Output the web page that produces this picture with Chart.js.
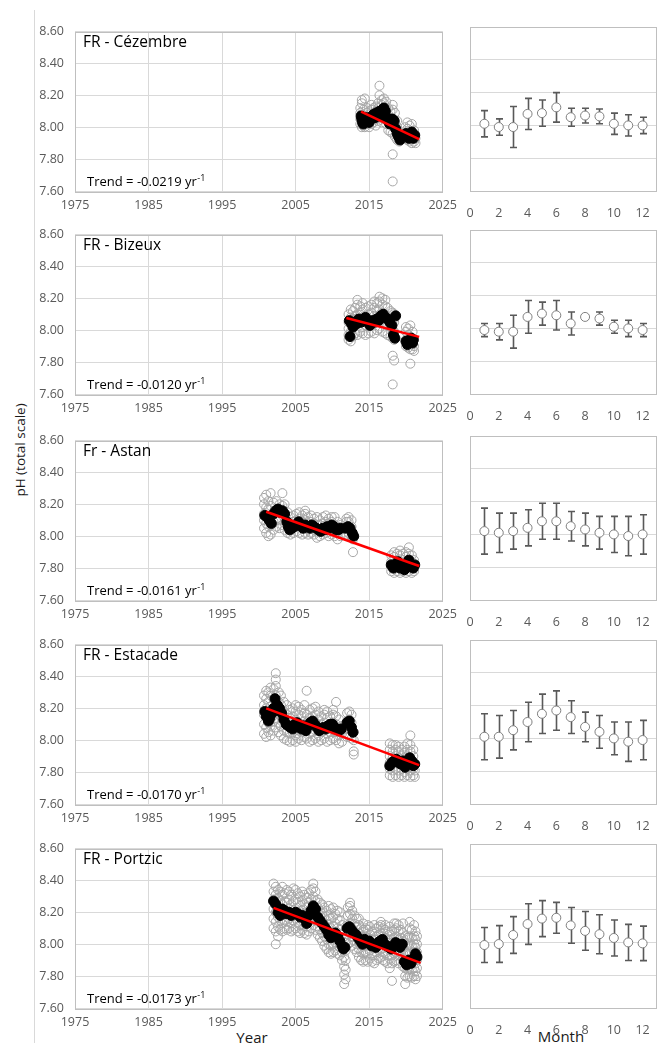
<!DOCTYPE html>
<html><head><meta charset="utf-8">
<script src="https://cdn.jsdelivr.net/npm/chart.js@4.4.1/dist/chart.umd.min.js"></script>
<style>
html,body{margin:0;padding:0;background:#fff;}
body{width:663px;height:1043px;position:relative;overflow:hidden;font-family:"Open Sans",sans-serif;}
canvas{position:absolute;}
.vline{position:absolute;left:34px;top:10px;width:0;height:1033px;border-left:1px solid #d9d9d9;}
.lab{position:absolute;color:#1a1a1a;white-space:nowrap;}
</style></head>
<body>
<div class="vline"></div>
<div class="lab" id="ylab" style="left:20px;top:450px;font-size:13.5px;transform:translate(-50%,-50%) rotate(-90deg);">pH (total scale)</div>
<div class="lab" style="left:252px;top:1037px;font-size:15px;transform:translate(-50%,-50%);">Year</div>
<div class="lab" style="left:561px;top:1036px;font-size:15px;transform:translate(-50%,-50%);">Month</div>
<script>
// ---------- tick labels ----------
const yearTicks = [1975, 1985, 1995, 2005, 2015, 2025];
const monthTicks = [0, 2, 4, 6, 8, 10, 12];
const phTicks = [7.6, 7.8, 8.0, 8.2, 8.4, 8.6];
const months = [1,2,3,4,5,6,7,8,9,10,11,12];

// ---------- site names & trends ----------
const siteNames = ['FR - Cézembre', 'FR - Bizeux', 'Fr - Astan', 'FR - Estacade', 'FR - Portzic'];
const trendLabels = ['-0.0219', '-0.0120', '-0.0161', '-0.0170', '-0.0173'];

// ---------- Cézembre ----------
const cezRaw = [
 [2013.8,[8.02,8.05,8.09,8.12]],[2014.0,[8.00,8.04,8.08,8.15,8.17]],[2014.2,[8.01,8.06,8.11]],
 [2014.4,[8.00,8.03,8.07,8.18]],[2014.7,[8.02,8.05,8.09,8.12]],[2015.0,[8.00,8.04,8.08,8.10]],
 [2015.3,[8.02,8.06,8.11,8.14]],[2015.6,[8.03,8.07,8.12]],[2015.9,[8.01,8.05,8.10,8.13]],
 [2016.2,[8.04,8.08,8.12,8.15]],[2016.4,[8.06,8.10,8.20,8.26]],[2016.7,[8.03,8.09,8.14,8.17]],
 [2017.0,[8.05,8.10,8.15,8.18]],[2017.3,[8.02,8.08,8.12,8.16]],[2017.6,[7.98,8.03,8.08,8.12]],
 [2017.9,[7.97,8.02,8.06,8.10]],[2018.2,[7.96,8.01,8.05,8.11,8.14,7.83,7.66]],[2018.5,[7.94,7.99,8.03,8.09]],
 [2018.8,[7.92,7.95,8.00,8.04]],[2019.1,[7.91,7.94,7.97]],[2019.9,[7.93,7.96,8.00]],
 [2020.2,[7.92,7.95,7.99,8.03]],[2020.5,[7.91,7.94,7.97,8.01]],[2020.8,[7.90,7.93,7.96,8.02]],
 [2021.1,[7.91,7.94,7.98]],[2021.3,[7.90,7.93]]
];
const cezMonthly = [
 [2013.9,8.07],[2014.0,8.05],[2014.1,8.03],[2014.2,8.02],[2014.4,8.04],[2014.6,8.06],[2014.8,8.05],
 [2015.0,8.03],[2015.2,8.05],[2015.4,8.07],[2015.6,8.08],[2015.8,8.06],[2016.0,8.09],[2016.2,8.08],
 [2016.4,8.10],[2016.6,8.07],[2016.8,8.11],[2017.0,8.12],[2017.2,8.10],[2017.4,8.06],[2017.6,8.04],
 [2017.8,8.02],[2018.0,8.05],[2018.2,8.05],[2018.4,8.04],[2018.6,7.99],[2018.8,7.96],[2019.0,7.94],
 [2019.2,7.92],[2020.0,7.96],[2020.2,7.95],[2020.4,7.93],[2020.6,7.94],[2020.8,7.97],[2021.0,7.93],[2021.2,7.95]
];
const cezTrend = [[2013.9,8.098],[2021.8,7.925]];
const cezMonthMean = [8.01,7.99,7.99,8.07,8.075,8.11,8.05,8.06,8.055,8.01,8.00,8.00];
const cezMonthSd   = [0.08,0.05,0.125,0.095,0.08,0.09,0.055,0.045,0.045,0.065,0.065,0.05];

// ---------- Bizeux ----------
const bizRaw = [
 [2012.2,[7.94,7.97,8.01,8.05,8.10]],[2012.5,[7.93,7.99,8.04,8.08,8.13]],[2012.8,[7.96,8.02,8.07,8.12]],
 [2013.1,[7.98,8.03,8.09,8.14]],[2013.4,[7.97,8.04,8.10,8.16,8.19]],[2013.8,[7.99,8.05,8.11,8.15]],
 [2014.1,[7.98,8.02,8.08,8.13,8.17]],[2014.5,[7.97,8.03,8.09,8.14]],[2014.9,[7.98,8.04,8.10,8.15]],
 [2015.3,[7.99,8.05,8.11,8.16]],[2015.7,[7.98,8.04,8.09,8.14,8.18]],[2016.1,[8.00,8.06,8.12,8.17]],
 [2016.4,[8.01,8.07,8.13,8.18,8.21]],[2016.8,[7.99,8.05,8.11,8.16,8.20]],[2017.2,[7.98,8.04,8.10,8.15,8.19]],
 [2017.5,[7.97,8.03,8.08,8.14]],[2017.9,[7.96,8.02,8.07,8.12]],[2018.2,[7.95,8.00,8.06,8.11,7.84,7.66]],
 [2018.4,[7.94,7.99,8.05,8.10,7.81]],[2020.0,[7.90,7.94,7.99,8.02]],[2020.3,[7.89,7.93,7.97,8.01]],
 [2020.6,[7.88,7.92,7.96,8.03,7.79]],[2020.9,[7.88,7.91,7.95,7.99]],[2021.1,[7.87,7.90,7.94]]
];
const bizMonthly = [
 [2012.3,8.06],[2012.4,7.96],[2012.6,8.04],[2012.8,8.02],[2013.0,8.05],[2013.3,8.04],[2013.6,8.07],
 [2013.9,8.05],[2014.2,8.06],[2014.5,8.08],[2014.8,8.05],[2015.1,8.03],[2015.4,8.06],[2015.7,8.05],
 [2016.0,8.07],[2016.3,8.06],[2016.6,8.09],[2016.9,8.10],[2017.2,8.08],[2017.5,8.07],[2017.8,8.05],
 [2018.1,8.03],[2018.3,7.97],[2018.5,7.95],[2018.6,8.09],[2020.0,7.93],[2020.2,7.91],[2020.5,7.93],
 [2020.7,7.95],[2020.9,7.92],[2021.0,7.94]
];
const bizTrend = [[2011.9,8.076],[2021.8,7.958]];
const bizMonthMean = [7.99,7.98,7.98,8.07,8.09,8.08,8.03,8.07,8.06,8.01,8.00,7.99];
const bizMonthSd   = [0.04,0.05,0.10,0.10,0.07,0.09,0.07,0.01,0.04,0.04,0.05,0.04];

// ---------- Astan ----------
const astRaw = [
 [2000.7,[8.05,8.10,8.14,8.20,8.24]],[2001.0,[8.02,8.08,8.13,8.18,8.26]],[2001.3,[8.00,8.06,8.11,8.17,8.22]],
 [2001.6,[8.01,8.07,8.12,8.19,8.27]],[2002.0,[8.04,8.09,8.14,8.21]],[2002.4,[8.06,8.11,8.16,8.22]],
 [2002.8,[8.05,8.10,8.15,8.20]],[2003.2,[8.07,8.13,8.19,8.27]],[2003.5,[8.04,8.09,8.14,8.20]],
 [2003.9,[8.02,8.06,8.10,8.15]],[2004.3,[8.01,8.04,8.08,8.12]],[2004.7,[8.02,8.05,8.09,8.13]],
 [2005.1,[8.03,8.06,8.10,8.14]],[2005.5,[8.02,8.07,8.11,8.15]],[2005.9,[8.01,8.05,8.09,8.13]],
 [2006.3,[8.02,8.06,8.10,8.14,8.16]],[2006.7,[8.01,8.04,8.08,8.12]],[2007.1,[8.02,8.05,8.09,8.13]],
 [2007.5,[8.01,8.04,8.08,8.11]],[2007.9,[7.99,8.03,8.07,8.12]],[2008.3,[8.00,8.04,8.07,8.10]],
 [2008.7,[8.01,8.05,8.08,8.12]],[2009.1,[8.02,8.06,8.09,8.13]],[2009.5,[8.00,8.04,8.08,8.11]],
 [2009.9,[8.01,8.05,8.09,8.12]],[2010.3,[8.00,8.03,8.07,8.12]],[2010.7,[7.98,8.02,8.06,8.09]],
 [2011.1,[8.00,8.04,8.07]],[2011.9,[8.01,8.05,8.09,8.11]],[2012.2,[8.02,8.06,8.09,8.12]],
 [2012.6,[8.00,8.03,8.06,8.10]],[2012.8,[7.98,8.01,7.90]],
 [2018.0,[7.78,7.81,7.84,7.88]],[2018.4,[7.77,7.80,7.83,7.87,7.90]],[2018.8,[7.78,7.81,7.85,7.89]],
 [2019.2,[7.77,7.80,7.84,7.88,7.91]],[2019.6,[7.78,7.82,7.85,7.89]],[2020.0,[7.77,7.80,7.83,7.87,7.90]],
 [2020.4,[7.78,7.81,7.85,7.89,7.93]],[2020.8,[7.77,7.80,7.84,7.88]],[2021.1,[7.78,7.81,7.85]]
];
const astMonthly = [
 [2000.8,8.13],[2001.1,8.12],[2001.4,8.10],[2001.7,8.08],[2002.0,8.14],[2002.3,8.16],[2002.6,8.17],
 [2002.9,8.15],[2003.2,8.16],[2003.5,8.14],[2003.8,8.09],[2004.0,8.06],[2004.2,8.04],[2004.5,8.05],
 [2004.8,8.06],[2005.1,8.07],[2005.4,8.09],[2005.7,8.07],[2006.0,8.05],[2006.3,8.07],[2006.6,8.06],
 [2006.9,8.05],[2007.2,8.07],[2007.5,8.06],[2007.8,8.05],[2008.1,8.04],[2008.4,8.03],[2008.7,8.05],
 [2009.0,8.04],[2009.3,8.06],[2009.6,8.05],[2009.9,8.07],[2010.2,8.06],[2010.5,8.04],[2010.8,8.04],
 [2011.1,8.05],[2011.8,8.05],[2012.1,8.06],[2012.4,8.05],[2012.7,8.02],[2012.9,8.00],
 [2018.0,7.82],[2018.3,7.80],[2018.6,7.82],[2018.9,7.84],[2019.2,7.80],[2019.5,7.82],[2019.8,7.79],
 [2020.1,7.83],[2020.4,7.85],[2020.7,7.81],[2021.0,7.80],[2021.2,7.82]
];
const astTrend = [[2001.0,8.153],[2021.8,7.813]];
const astMonthMean = [8.02,8.01,8.02,8.04,8.08,8.08,8.05,8.03,8.01,8.00,7.99,8.00];
const astMonthSd   = [0.14,0.12,0.11,0.11,0.11,0.11,0.09,0.10,0.10,0.11,0.12,0.12];

// ---------- Estacade ----------
const estRaw = [
 [2000.7,[8.04,8.10,8.16,8.22,8.28]],[2001.0,[8.02,8.08,8.14,8.20,8.26,8.31]],[2001.3,[8.05,8.11,8.18,8.24,8.30]],
 [2001.6,[8.03,8.09,8.15,8.21,8.28,8.33]],[2002.0,[8.06,8.12,8.19,8.26,8.32]],[2002.3,[8.08,8.14,8.21,8.28,8.34,8.38,8.42]],
 [2002.7,[8.05,8.11,8.17,8.24,8.30]],[2003.0,[8.03,8.09,8.15,8.22,8.28]],[2003.4,[8.01,8.06,8.12,8.18,8.24]],
 [2003.8,[8.00,8.05,8.10,8.16,8.22]],[2004.2,[7.99,8.04,8.09,8.14,8.19]],[2004.6,[8.00,8.05,8.10,8.15,8.20]],
 [2005.0,[7.99,8.03,8.08,8.13,8.18,8.22]],[2005.4,[8.01,8.06,8.11,8.16,8.21]],[2005.8,[8.00,8.05,8.10,8.15,8.19]],
 [2006.2,[8.02,8.07,8.12,8.17,8.22]],[2006.5,[8.01,8.06,8.11,8.16,8.31]],[2006.9,[7.99,8.04,8.09,8.14,8.19]],
 [2007.3,[8.00,8.05,8.10,8.15,8.20]],[2007.7,[8.01,8.06,8.11,8.16,8.21]],[2008.1,[7.99,8.03,8.08,8.13,8.18]],
 [2008.5,[8.00,8.05,8.10,8.15]],[2008.9,[8.01,8.06,8.11,8.16,8.19]],[2009.3,[7.99,8.04,8.09,8.14,8.18]],
 [2009.7,[8.00,8.05,8.10,8.15]],[2010.1,[8.01,8.06,8.11,8.16,8.19]],[2010.5,[8.00,8.05,8.10,8.15,8.24]],
 [2010.9,[7.98,8.03,8.08,8.13]],[2011.3,[7.99,8.04,8.09]],[2012.0,[8.02,8.07,8.12,8.17]],
 [2012.3,[8.03,8.08,8.13,8.18]],[2012.6,[8.01,8.06,8.11,8.16]],[2012.9,[7.93,7.91,8.00,8.05]],
 [2017.8,[7.78,7.82,7.86,7.90,7.94,7.98]],[2018.2,[7.77,7.81,7.85,7.89,7.93,7.97]],[2018.6,[7.78,7.82,7.86,7.90,7.94,7.97]],
 [2019.0,[7.77,7.81,7.85,7.89,7.93,7.96]],[2019.4,[7.78,7.82,7.86,7.90,7.94]],[2019.8,[7.77,7.80,7.84,7.88,7.92,7.96]],
 [2020.2,[7.78,7.82,7.86,7.90,7.94,7.98]],[2020.6,[7.77,7.81,7.85,7.89,7.93,7.97,8.03]],[2021.0,[7.78,7.82,7.86,7.90,7.94]],
 [2021.2,[7.77,7.81,7.85]]
];
const estMonthly = [
 [2000.8,8.18],[2001.0,8.15],[2001.3,8.12],[2001.5,8.14],[2001.8,8.17],[2002.0,8.20],[2002.2,8.26],
 [2002.5,8.22],[2002.8,8.20],[2003.1,8.17],[2003.4,8.13],[2003.7,8.10],[2004.0,8.09],[2004.3,8.08],
 [2004.6,8.07],[2004.9,8.10],[2005.2,8.11],[2005.5,8.08],[2005.8,8.07],[2006.1,8.09],[2006.4,8.06],
 [2006.7,8.09],[2007.0,8.11],[2007.3,8.12],[2007.6,8.10],[2007.9,8.08],[2008.2,8.06],[2008.5,8.07],
 [2008.8,8.08],[2009.1,8.07],[2009.4,8.09],[2009.7,8.10],[2010.0,8.10],[2010.3,8.08],[2010.6,8.07],
 [2010.9,8.06],[2011.2,8.07],[2012.0,8.11],[2012.3,8.12],[2012.6,8.08],[2012.8,8.05],
 [2017.8,7.84],[2018.1,7.86],[2018.4,7.87],[2018.7,7.88],[2019.0,7.86],[2019.3,7.85],[2019.6,7.87],
 [2019.9,7.83],[2020.2,7.86],[2020.5,7.89],[2020.8,7.87],[2021.0,7.84],[2021.2,7.85]
];
const estTrend = [[2001.0,8.20],[2021.8,7.844]];
const estMonthMean = [8.01,8.01,8.05,8.10,8.15,8.17,8.13,8.07,8.04,8.00,7.98,7.99];
const estMonthSd   = [0.14,0.13,0.12,0.12,0.12,0.12,0.10,0.09,0.10,0.10,0.12,0.12];

// ---------- Portzic ----------
const porRaw = [
 [2002.0,[8.10,8.16,8.22,8.28,8.33,8.38]],[2002.3,[8.00,8.08,8.14,8.20,8.26,8.31,8.36]],[2002.6,[8.05,8.11,8.17,8.23,8.29,8.34]],
 [2002.9,[8.09,8.15,8.21,8.27,8.33]],[2003.2,[8.08,8.13,8.19,8.25,8.31,8.36]],[2003.5,[8.10,8.15,8.21,8.27,8.32]],
 [2003.8,[8.09,8.14,8.20,8.26,8.34]],[2004.1,[8.10,8.16,8.22,8.28,8.33]],[2004.4,[8.08,8.13,8.19,8.25,8.31]],
 [2004.7,[8.09,8.15,8.21,8.27,8.35]],[2005.0,[8.10,8.16,8.22,8.28,8.34]],[2005.3,[8.08,8.14,8.20,8.26,8.32]],
 [2005.6,[8.07,8.12,8.18,8.24,8.30]],[2005.9,[8.09,8.15,8.21,8.27,8.33]],[2006.2,[8.07,8.13,8.19,8.25,8.31]],
 [2006.5,[8.06,8.11,8.17,8.23,8.29]],[2006.8,[8.08,8.14,8.20,8.26,8.32]],[2007.1,[8.10,8.16,8.22,8.28,8.34]],
 [2007.4,[8.12,8.18,8.24,8.30,8.35,8.38]],[2007.7,[8.09,8.15,8.21,8.27,8.33]],[2008.0,[8.06,8.11,8.17,8.23,8.28]],
 [2008.3,[8.04,8.09,8.15,8.21,8.26]],[2008.6,[8.02,8.07,8.13,8.19,8.25]],[2008.9,[7.99,8.05,8.11,8.17,8.23]],
 [2009.2,[7.97,8.03,8.09,8.15,8.21]],[2009.5,[7.95,8.00,8.06,8.12,8.18,8.24]],[2009.8,[7.94,7.99,8.04,8.10,8.16,8.22]],
 [2010.1,[7.95,8.00,8.05,8.11,8.17,8.23]],[2010.4,[7.96,8.01,8.07,8.13,8.19]],[2010.7,[7.94,7.99,8.04,8.10,8.16,8.21]],
 [2011.0,[7.93,7.98,8.03,8.09,8.15,8.20]],[2011.3,[7.90,7.95,8.00,8.06,8.12]],[2011.6,[7.75,7.81,7.86,7.92,7.97,8.03]],
 [2011.8,[7.78,7.84,7.90,7.96,8.01]],[2012.1,[8.00,8.06,8.12,8.18,8.23]],[2012.4,[8.01,8.07,8.13,8.19,8.24,8.26]],
 [2012.7,[7.99,8.05,8.10,8.16,8.21]],[2013.0,[7.97,8.02,8.08,8.13,8.18]],[2013.3,[7.95,8.00,8.05,8.11,8.16]],
 [2013.6,[7.92,7.97,8.02,8.07,8.12,8.16]],[2013.9,[7.90,7.95,8.00,8.05,8.10]],[2014.2,[7.89,7.94,7.99,8.04,8.09,8.13]],
 [2014.5,[7.90,7.95,8.00,8.05,8.10]],[2014.8,[7.89,7.94,7.99,8.04,8.09,8.12]],[2015.1,[7.91,7.96,8.01,8.06,8.11]],
 [2015.4,[7.89,7.93,7.98,8.03,8.08]],[2015.7,[7.88,7.93,7.98,8.03,8.08,8.12]],[2016.0,[7.90,7.95,8.00,8.05,8.10]],
 [2016.3,[7.91,7.96,8.01,8.06,8.11]],[2016.6,[7.92,7.97,8.02,8.07,8.12,8.14]],[2016.9,[7.90,7.95,8.00,8.05,8.10]],
 [2017.2,[7.89,7.94,7.99,8.04,8.09,8.12]],[2017.5,[7.88,7.93,7.98,8.03,8.08]],[2017.8,[7.85,7.91,7.96,8.01,8.06,8.11]],
 [2018.1,[7.77,7.88,7.93,7.98,8.03,8.08]],[2018.4,[7.89,7.94,7.99,8.04,8.09,8.13]],[2018.7,[7.90,7.95,8.00,8.05,8.10,8.13]],
 [2019.0,[7.88,7.93,7.98,8.03,8.08,8.12]],[2019.3,[7.89,7.94,7.99,8.04,8.09]],[2019.6,[7.86,7.91,7.97,8.02,8.07,8.13]],
 [2019.9,[7.75,7.80,7.85,7.90,7.95,8.00,8.05]],[2020.2,[7.79,7.84,7.89,7.94,7.99,8.04]],[2020.5,[7.80,7.85,7.90,7.95,8.00,8.05,8.10,8.14]],
 [2020.8,[7.79,7.84,7.89,7.94,7.99,8.04,8.09]],[2021.1,[7.80,7.85,7.90,7.95,8.00,8.05,8.12]],[2021.3,[7.78,7.83,7.88,7.93,7.98,8.03,8.08]],
 [2021.5,[7.80,7.85,7.90,7.95,8.00,8.05]]
];
const porMonthly = [
 [2002.0,8.27],[2002.3,8.25],[2002.6,8.20],[2002.9,8.18],[2003.2,8.22],[2003.5,8.21],[2003.8,8.19],
 [2004.1,8.20],[2004.4,8.18],[2004.7,8.19],[2005.0,8.20],[2005.3,8.19],[2005.6,8.17],[2005.9,8.18],
 [2006.2,8.16],[2006.5,8.13],[2006.8,8.18],[2007.1,8.21],[2007.4,8.24],[2007.7,8.22],[2008.0,8.17],
 [2008.3,8.15],[2008.6,8.13],[2008.9,8.11],[2009.2,8.09],[2009.5,8.06],[2009.8,8.04],[2010.1,8.05],
 [2010.4,8.07],[2010.7,8.05],[2011.0,8.02],[2011.3,7.99],[2011.5,7.97],[2011.7,7.98],[2012.0,8.10],
 [2012.3,8.11],[2012.6,8.09],[2012.9,8.07],[2013.2,8.06],[2013.5,8.04],[2013.8,8.02],[2014.1,8.00],
 [2014.4,8.03],[2014.7,8.01],[2015.0,8.02],[2015.3,7.99],[2015.6,8.00],[2015.9,7.98],[2016.2,8.01],
 [2016.5,8.02],[2016.8,8.03],[2017.1,8.00],[2017.4,7.99],[2017.7,7.98],[2018.0,7.97],[2018.3,7.99],
 [2018.6,8.01],[2018.9,8.00],[2019.2,7.98],[2019.5,8.00],[2019.8,7.89],[2020.1,7.87],[2020.4,7.90],
 [2020.7,7.88],[2021.0,7.91],[2021.3,7.94],[2021.5,7.92]
];
const porTrend = [[2002.0,8.228],[2022.0,7.883]];
const porMonthMean = [7.984,7.99,8.045,8.112,8.145,8.15,8.104,8.07,8.05,8.027,8.00,7.994];
const porMonthSd   = [0.107,0.112,0.112,0.124,0.11,0.094,0.109,0.118,0.119,0.11,0.11,0.105];

// ---------- layout ----------
const rowTops = [27, 230, 436, 640, 844];
const PH = 164;
const raws = [cezRaw, bizRaw, astRaw, estRaw, porRaw];
const monthlies = [cezMonthly, bizMonthly, astMonthly, estMonthly, porMonthly];
const trends = [cezTrend, bizTrend, astTrend, estTrend, porTrend];
const mMeans = [cezMonthMean, bizMonthMean, astMonthMean, estMonthMean, porMonthMean];
const mSds = [cezMonthSd, bizMonthSd, astMonthSd, estMonthSd, porMonthSd];

Chart.defaults.font.family = "'Open Sans', sans-serif";
Chart.defaults.font.size = 12.5;
Chart.defaults.color = '#595959';

const deco = {
  id: 'deco',
  beforeDatasetsDraw(chart, args, o) {
    const {ctx, chartArea: a} = chart;
    ctx.save();
    ctx.strokeStyle = '#bfbfbf';
    ctx.lineWidth = 1;
    ctx.strokeRect(Math.round(a.left) + 0.5, Math.round(a.top) + 0.5, Math.round(a.right - a.left) - 1, Math.round(a.bottom - a.top));
    if (o.mean) {
      const xs = chart.scales.x, ys = chart.scales.y;
      ctx.strokeStyle = '#595959';
      ctx.lineWidth = 1.6;
      o.mean.forEach((m, i) => {
        const px = Math.round(xs.getPixelForValue(months[i])) + 0.5;
        const y1 = ys.getPixelForValue(m - o.sd[i]);
        const y2 = ys.getPixelForValue(m + o.sd[i]);
        ctx.beginPath();
        ctx.moveTo(px, y1); ctx.lineTo(px, y2);
        ctx.moveTo(px - 3.5, y1); ctx.lineTo(px + 3.5, y1);
        ctx.moveTo(px - 3.5, y2); ctx.lineTo(px + 3.5, y2);
        ctx.stroke();
      });
    }
    ctx.restore();
  },
  afterDatasetsDraw(chart, args, o) {
    if (!o.title) return;
    const {ctx, chartArea: a} = chart;
    ctx.save();
    ctx.fillStyle = '#000';
    ctx.font = "15.5px 'Open Sans'";
    ctx.textBaseline = 'middle';
    ctx.fillText(o.title, a.left + 8, a.top + 11);
    ctx.textBaseline = 'alphabetic';
    ctx.font = "13px 'Open Sans'";
    const main = 'Trend = ' + o.trend + ' yr';
    ctx.fillText(main, a.left + 12, a.bottom - 5);
    const w = ctx.measureText(main).width;
    ctx.font = "9px 'Open Sans'";
    ctx.fillText('-1', a.left + 12 + w + 0.5, a.bottom - 10);
    ctx.restore();
  }
};

function makeCanvas(left, top, w, h) {
  const c = document.createElement('canvas');
  c.width = w; c.height = h;
  c.style.left = left + 'px'; c.style.top = top + 'px';
  c.style.width = w + 'px'; c.style.height = h + 'px';
  document.body.appendChild(c);
  return c;
}

function setTicks(arr) { return s => { s.ticks = arr.map(v => ({value: v})); }; }

const CW = 430, CH = 206, TOPPAD = 14;

rowTops.forEach((T, r) => {
  // ---- left scatter panel ----
  const c1 = makeCanvas(34, T - TOPPAD, CW, CH);
  const rawPts = raws[r].flatMap(([yr, vals]) => vals.map(v => ({x: yr, y: v})));
  const monPts = monthlies[r].map(([x, y]) => ({x, y}));
  const trPts = trends[r].map(([x, y]) => ({x, y}));
  new Chart(c1, {
    type: 'scatter',
    data: { datasets: [
      { type: 'line', data: trPts, borderColor: '#ff0000', borderWidth: 2.5, pointRadius: 0, fill: false, order: 0 },
      { data: monPts, pointRadius: 5, pointBackgroundColor: '#000', pointBorderColor: '#000', pointBorderWidth: 1, order: 1 },
      { data: rawPts, pointRadius: 4.5, pointBackgroundColor: 'rgba(0,0,0,0)', pointBorderColor: '#a6a6a6', pointBorderWidth: 1, order: 2 }
    ]},
    options: {
      animation: false, responsive: false, devicePixelRatio: 1,
      layout: { padding: { left: 0, top: TOPPAD, right: CW - (443 - 34), bottom: 0 } },
      plugins: { legend: {display: false}, tooltip: {enabled: false},
        deco: { title: siteNames[r], trend: trendLabels[r] } },
      scales: {
        x: { type: 'linear', min: 1975, max: 2025, afterBuildTicks: setTicks(yearTicks),
             afterFit: s => { s.height = CH - TOPPAD - PH; },
             grid: { color: '#d9d9d9', drawTicks: false }, border: { display: false },
             ticks: { padding: 7, callback: v => String(v) } },
        y: { type: 'linear', min: 7.6, max: 8.6, afterBuildTicks: setTicks(phTicks),
             afterFit: s => { s.width = 75 - 34; },
             grid: { color: '#d9d9d9', drawTicks: false }, border: { display: false },
             ticks: { padding: 11, callback: v => v.toFixed(2) } }
      }
    },
    plugins: [deco]
  });

  // ---- right monthly panel ----
  const c2 = makeCanvas(455, T - TOPPAD, 208, CH);
  const mPts = months.map((m, i) => ({x: m, y: mMeans[r][i]}));
  new Chart(c2, {
    type: 'scatter',
    data: { datasets: [
      { data: mPts, pointRadius: 4.5, pointBackgroundColor: '#fff', pointBorderColor: '#7f7f7f', pointBorderWidth: 1 }
    ]},
    options: {
      animation: false, responsive: false, devicePixelRatio: 1,
      layout: { padding: { left: 0, top: TOPPAD, right: 208 - (657 - 455), bottom: 0 } },
      plugins: { legend: {display: false}, tooltip: {enabled: false},
        deco: { mean: mMeans[r], sd: mSds[r] } },
      scales: {
        x: { type: 'linear', min: 0, max: 13, afterBuildTicks: setTicks(monthTicks),
             afterFit: s => { s.height = CH - TOPPAD - PH; },
             grid: { display: false }, border: { display: false },
             ticks: { padding: 7, callback: v => String(v) } },
        y: { type: 'linear', min: 7.6, max: 8.6, afterBuildTicks: setTicks(phTicks),
             afterFit: s => { s.width = 470 - 455; },
             grid: { color: '#d9d9d9', drawTicks: false }, border: { display: false },
             ticks: { display: false } }
      }
    },
    plugins: [deco]
  });
});
</script>
</body></html>
